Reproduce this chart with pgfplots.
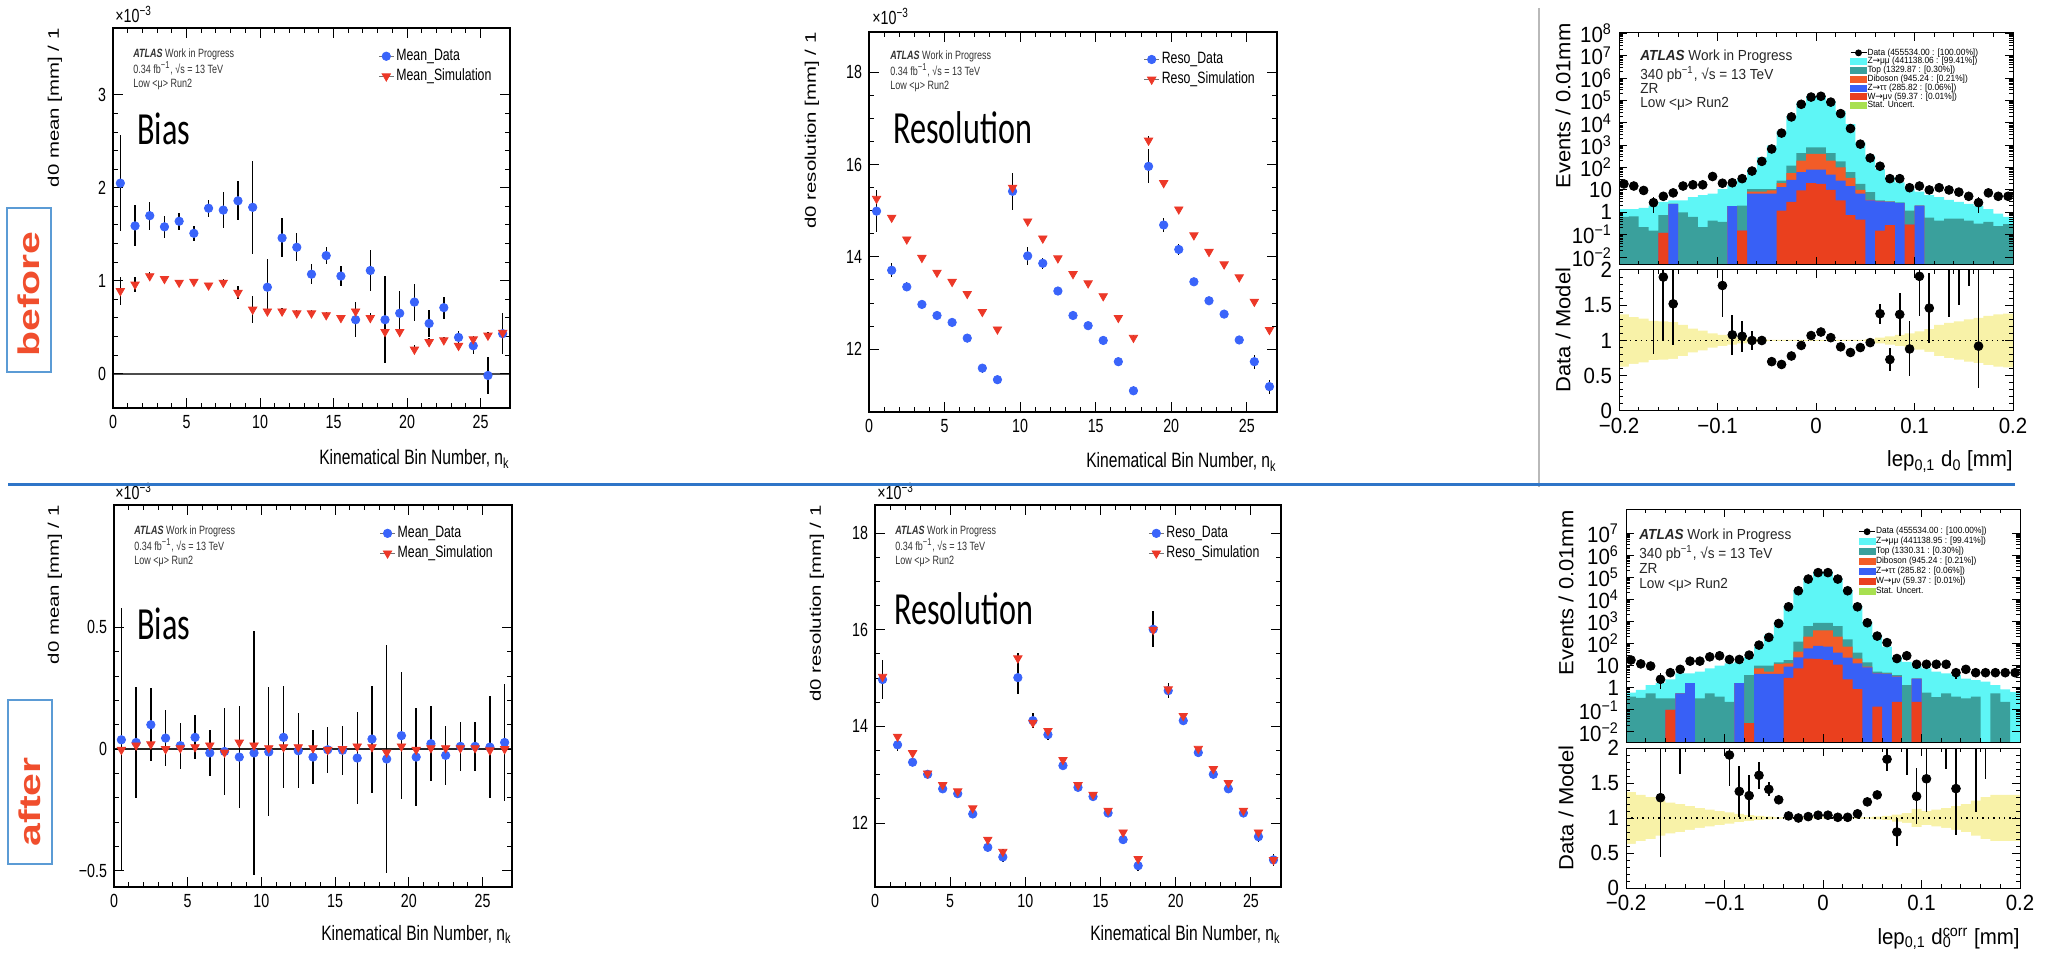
\documentclass[border=0pt]{standalone}
\usepackage{fontspec}
\usepackage{graphicx}
\usepackage{pgfplots}
\usepackage{pgfplotstable}
\pgfplotsset{compat=1.18}
\setmainfont{Liberation Sans}[FakeStretch=0.75]
\newfontfamily\histfont{Liberation Sans}[FakeStretch=0.93]
\newfontfamily\rotfont{Liberation Sans}
\newfontfamily\calfont{Carlito}[FakeStretch=0.70]
\newfontfamily\djv{DejaVu Sans}

\definecolor{mblue}{RGB}{58,100,250}
\definecolor{mred}{RGB}{236,56,40}
\definecolor{zmm}{RGB}{94,246,246}
\definecolor{ttop}{RGB}{58,160,156}
\definecolor{dib}{RGB}{242,92,40}
\definecolor{ztt}{RGB}{56,96,246}
\definecolor{wmn}{RGB}{234,64,30}
\definecolor{band}{RGB}{248,242,168}
\definecolor{statg}{RGB}{168,224,80}
\definecolor{slred}{RGB}{240,78,45}
\definecolor{slblue}{RGB}{46,117,200}
\definecolor{boxblue}{RGB}{91,155,213}

% ---------------- bias / resolution tables ----------------
\pgfplotstableread{
x d de s se
0.5 2.05 0.52 0.89 0.15
1.5 1.59 0.22 0.96 0.08
2.5 1.70 0.15 1.05 0.04
3.5 1.58 0.12 1.02 0.03
4.5 1.64 0.09 0.98 0.03
5.5 1.51 0.08 0.99 0.03
6.5 1.78 0.09 0.95 0.03
7.5 1.76 0.19 0.98 0.04
8.5 1.86 0.21 0.87 0.07
9.5 1.79 0.50 0.69 0.15
10.5 0.93 0.30 0.67 0.05
11.5 1.46 0.21 0.67 0.04
12.5 1.36 0.15 0.65 0.03
13.5 1.07 0.11 0.65 0.03
14.5 1.27 0.09 0.63 0.03
15.5 1.05 0.11 0.60 0.03
16.5 0.58 0.19 0.67 0.04
17.5 1.11 0.22 0.60 0.05
18.5 0.58 0.47 0.45 0.07
19.5 0.65 0.24 0.45 0.06
20.5 0.77 0.20 0.26 0.05
21.5 0.54 0.15 0.34 0.04
22.5 0.71 0.12 0.36 0.03
23.5 0.39 0.07 0.30 0.03
24.5 0.30 0.09 0.37 0.03
25.5 -0.02 0.20 0.41 0.04
26.5 0.43 0.22 0.44 0.05
}\biasb
\pgfplotstableread{
x d de s se
0.5 0.038 0.54 -0.003 0.02
1.5 0.027 0.23 0.015 0.02
2.5 0.10 0.15 0.02 0.02
3.5 0.045 0.115 0.0 0.01
4.5 0.014 0.095 0.004 0.01
5.5 0.048 0.09 0.008 0.01
6.5 -0.016 0.093 0.015 0.01
7.5 -0.01 0.18 -0.014 0.01
8.5 -0.033 0.21 0.027 0.01
9.5 -0.016 0.50 0.015 0.02
10.5 -0.012 0.265 0.004 0.01
11.5 0.048 0.21 0.008 0.01
12.5 -0.007 0.155 0.008 0.01
13.5 -0.033 0.11 0.004 0.01
14.5 -0.003 0.095 -0.003 0.01
15.5 -0.005 0.10 0.0 0.01
16.5 -0.037 0.19 0.011 0.01
17.5 0.041 0.22 0.008 0.01
18.5 -0.041 0.47 -0.014 0.02
19.5 0.055 0.26 0.011 0.01
20.5 -0.033 0.20 -0.003 0.01
21.5 0.022 0.155 0.004 0.01
22.5 -0.026 0.12 0.004 0.01
23.5 0.011 0.10 0.004 0.01
24.5 0.011 0.10 0.004 0.01
25.5 0.008 0.21 -0.005 0.01
26.5 0.027 0.24 0.0 0.01
}\biasa
\pgfplotstableread{
x d de s se
0.5 14.99 0.45 15.26 0.12
1.5 13.71 0.15 14.85 0.05
2.5 13.35 0.10 14.38 0.04
3.5 12.97 0.07 13.98 0.04
4.5 12.73 0.07 13.66 0.04
5.5 12.58 0.07 13.46 0.04
6.5 12.24 0.07 13.20 0.04
7.5 11.59 0.10 12.81 0.04
8.5 11.34 0.10 12.43 0.05
9.5 15.42 0.40 15.50 0.10
10.5 14.02 0.20 14.77 0.05
11.5 13.86 0.12 14.40 0.04
12.5 13.26 0.08 13.97 0.04
13.5 12.73 0.07 13.63 0.04
14.5 12.51 0.07 13.43 0.04
15.5 12.19 0.07 13.15 0.04
16.5 11.73 0.10 12.68 0.05
17.5 11.10 0.10 12.25 0.05
18.5 15.96 0.37 16.52 0.10
19.5 14.69 0.15 15.60 0.05
20.5 14.16 0.12 15.03 0.05
21.5 13.46 0.08 14.47 0.04
22.5 13.05 0.07 14.11 0.04
23.5 12.76 0.07 13.84 0.04
24.5 12.20 0.07 13.56 0.04
25.5 11.73 0.15 13.03 0.05
26.5 11.19 0.15 12.42 0.05
}\resb
\pgfplotstableread{
x d de s se
0.5 14.97 0.41 15.03 0.10
1.5 13.62 0.12 13.79 0.05
2.5 13.26 0.08 13.45 0.04
3.5 13.01 0.07 13.03 0.04
4.5 12.71 0.06 12.79 0.04
5.5 12.61 0.06 12.66 0.04
6.5 12.19 0.07 12.31 0.04
7.5 11.50 0.10 11.66 0.04
8.5 11.30 0.10 11.41 0.05
9.5 15.01 0.33 15.41 0.10
10.5 14.12 0.15 14.08 0.08
11.5 13.83 0.10 13.91 0.05
12.5 13.19 0.08 13.31 0.04
13.5 12.74 0.06 12.79 0.04
14.5 12.55 0.06 12.59 0.04
15.5 12.21 0.06 12.26 0.04
16.5 11.66 0.10 11.81 0.04
17.5 11.12 0.10 11.26 0.05
18.5 16.01 0.37 16.00 0.10
19.5 14.74 0.15 14.77 0.05
20.5 14.12 0.10 14.22 0.04
21.5 13.46 0.08 13.54 0.04
22.5 13.01 0.07 13.12 0.04
23.5 12.71 0.07 12.83 0.04
24.5 12.21 0.07 12.26 0.04
25.5 11.72 0.10 11.81 0.05
26.5 11.24 0.12 11.24 0.05
}\resa

% ---------------- histogram stacks (bin left edges) ----------------
\pgfplotstableread{
x w tt db top tot hu hl
-0.20 1e-5 1e-5 1e-5 0.62 1.4 1.37 0.63
-0.19 1e-5 1e-5 1e-5 0.66 1.4 1.33 0.67
-0.18 1e-5 1e-5 1e-5 0.22 1.6 1.31 0.69
-0.17 1e-5 1e-5 1e-5 0.15 2.0 1.28 0.72
-0.16 0.12 0.12 0.12 0.74 2.9 1.27 0.73
-0.15 1e-5 2.4 2.4 2.4 3.4 1.26 0.74
-0.14 1e-5 1e-5 1e-5 1.0 3.4 1.22 0.78
-0.13 1e-5 1e-5 1e-5 0.62 4.8 1.17 0.83
-0.12 1e-5 1e-5 1e-5 0.22 5.8 1.14 0.86
-0.11 1e-5 1e-5 1e-5 0.43 6.8 1.10 0.90
-0.10 1e-5 1e-5 1e-5 0.37 11 1.08 0.92
-0.09 1e-5 1.9 1.9 1.9 16 1.06 0.94
-0.08 0.15 0.15 0.15 2.0 32 1.04 0.96
-0.07 1e-5 6.8 8.5 11 87 1.03 0.97
-0.06 1e-5 6.8 8.5 11 290 1.02 0.98
-0.05 1e-5 6.8 9.5 11 950 1.01 0.99
-0.04 1.2 13.5 20 26 4400 1.01 0.99
-0.03 2.9 28 56 123 20000 1.01 0.99
-0.02 9.5 62 204 447 80000 1.01 0.99
-0.01 20 81 407 800 158000 1.01 0.99
0.00 18.6 81 407 800 158000 1.01 0.99
0.01 10 49 204 447 95000 1.01 0.99
0.02 3.4 26 102 190 34000 1.01 0.99
0.03 0.74 15 35 62 8700 1.01 0.99
0.04 0.47 6.8 10 18.6 1350 1.01 0.99
0.05 1e-5 3.4 3.6 8 340 1.02 0.98
0.06 0.15 3.1 3.2 3.4 87 1.04 0.96
0.07 0.27 2.9 3.0 3.1 37 1.06 0.94
0.08 1e-5 2.6 2.6 2.8 22 1.08 0.92
0.09 0.28 0.28 0.28 1.2 11 1.10 0.90
0.10 1e-5 2.0 2.0 2.0 8.5 1.13 0.87
0.11 1e-5 1e-5 1e-5 0.58 5.8 1.16 0.84
0.12 1e-5 1e-5 1e-5 0.43 4.8 1.22 0.78
0.13 1e-5 1e-5 1e-5 0.52 3.6 1.25 0.75
0.14 1e-5 1e-5 1e-5 0.52 2.9 1.27 0.73
0.15 1e-5 1e-5 1e-5 0.43 2.4 1.30 0.70
0.16 1e-5 1e-5 1e-5 0.31 1.9 1.32 0.68
0.17 1e-5 1e-5 1e-5 0.37 1.4 1.35 0.65
0.18 1e-5 1e-5 1e-5 0.24 0.87 1.37 0.63
0.19 1e-5 1e-5 1e-5 0.30 0.63 1.38 0.62
0.20 1e-5 1e-5 1e-5 0.30 0.63 1.38 0.62
}\stackb
\pgfplotstableread{
x w tt db top tot hu hl
-0.20 1e-5 1e-5 1e-5 0.40 0.6 1.37 0.63
-0.19 1e-5 1e-5 1e-5 0.35 0.8 1.33 0.67
-0.18 1e-5 1e-5 1e-5 0.56 1.3 1.30 0.70
-0.17 1e-5 1e-5 1e-5 0.33 1.6 1.25 0.75
-0.16 0.1 0.1 0.1 0.33 2.4 1.22 0.78
-0.15 1e-5 0.56 0.56 0.56 4.5 1.20 0.80
-0.14 1e-5 1.6 1.6 1.6 4.5 1.17 0.83
-0.13 1e-5 1e-5 1e-5 0.33 5.3 1.14 0.86
-0.12 1e-5 1e-5 1e-5 0.56 7.6 1.12 0.88
-0.11 1e-5 1e-5 1e-5 0.40 10 1.10 0.90
-0.10 1e-5 1e-5 1e-5 0.23 12.6 1.08 0.92
-0.09 1e-5 1.6 1.6 1.6 15 1.06 0.94
-0.08 0.025 0.025 0.025 3.7 25 1.04 0.96
-0.07 1e-5 4.2 7.6 10 72 1.03 0.97
-0.06 1e-5 4.2 5.4 10 240 1.02 0.98
-0.05 1e-5 4.2 12 14 970 1.01 0.99
-0.04 2.8 9 12.6 18 5000 1.01 0.99
-0.03 7.6 23.5 43 123 26000 1.01 0.99
-0.02 21 60 205 620 89000 1.01 0.99
-0.01 20 79 400 870 178000 1.01 0.99
0.00 18 72 400 870 178000 1.01 0.99
0.01 11 39 205 620 89000 1.01 0.99
0.02 2.4 23 72 155 26000 1.01 0.99
0.03 0.87 12.6 21 39 5000 1.01 0.99
0.04 1e-5 8.3 9 14 970 1.01 0.99
0.05 0.14 4.5 4.6 5.3 240 1.02 0.98
0.06 1e-5 4.2 4.3 4.8 72 1.03 0.97
0.07 0.23 3.2 3.3 3.7 25 1.05 0.95
0.08 1e-5 1e-5 1e-5 1.3 15 1.07 0.93
0.09 0.23 2.6 2.6 2.6 10 1.13 0.87
0.10 1e-5 1e-5 1e-5 0.6 7.6 1.10 0.90
0.11 1e-5 1e-5 1e-5 0.38 5.3 1.12 0.88
0.12 1e-5 1e-5 1e-5 0.56 4.5 1.14 0.86
0.13 1e-5 1e-5 1e-5 0.40 3.8 1.17 0.83
0.14 1e-5 1e-5 1e-5 0.33 2.6 1.20 0.80
0.15 1e-5 1e-5 1e-5 0.40 2.2 1.25 0.75
0.16 1e-5 1e-5 1e-5 1e-5 1.9 1.30 0.70
0.17 1e-5 1e-5 1e-5 0.56 1.3 1.33 0.67
0.18 1e-5 1e-5 1e-5 0.23 0.85 1.33 0.67
0.19 1e-5 1e-5 1e-5 1e-5 0.65 1.33 0.67
0.20 1e-5 1e-5 1e-5 1e-5 0.65 1.33 0.67
}\stacka

% ---------------- histogram data points (bin centres) ----------------
\pgfplotstableread{
x y ep em
-0.195 18.6 0 0
-0.185 15 0 0
-0.175 9.5 0 0
-0.165 2.7 2.1 1.8
-0.155 5.2 0 0
-0.145 7.4 0 0
-0.135 15 0 0
-0.125 17 0 0
-0.115 17 0 0
-0.105 40 0 0
-0.095 20 0 0
-0.085 21 0 0
-0.075 32 0 0
-0.065 70 0 0
-0.055 190 0 0
-0.045 680 0 0
-0.035 3500 0 0
-0.025 18500 0 0
-0.015 68000 0 0
-0.005 143000 0 0
0.005 155000 0 0
0.015 85000 0 0
0.025 26000 0 0
0.035 5600 0 0
0.045 1120 0 0
0.055 270 0 0
0.065 115 0 0
0.075 32 0 0
0.085 32 0 0
0.095 12.6 0 0
0.105 15 0 0
0.115 10 0 0
0.125 12.6 0 0
0.135 10 0 0
0.145 8 0 0
0.155 5.2 0 0
0.165 2.7 2.1 1.8
0.175 7.4 0 0
0.185 5.2 0 0
0.195 5.2 0 0
}\hdatb
\pgfplotstableread{
x y ep em
-0.195 18 0 0
-0.185 12 0 0
-0.175 9.6 0 0
-0.165 2.4 2.1 1.55
-0.155 4.8 0 0
-0.145 6.8 0 0
-0.135 16 0 0
-0.125 16 0 0
-0.115 25 0 0
-0.105 28 0 0
-0.095 19 0 0
-0.085 19 0 0
-0.075 30 0 0
-0.065 85 0 0
-0.055 190 0 0
-0.045 810 0 0
-0.035 4600 0 0
-0.025 24500 0 0
-0.015 83000 0 0
-0.005 162000 0 0
0.005 162000 0 0
0.015 83000 0 0
0.025 24500 0 0
0.035 4600 0 0
0.045 870 0 0
0.055 218 0 0
0.065 110 0 0
0.075 21 0 0
0.085 28 0 0
0.095 11.5 0 0
0.105 11.5 0 0
0.115 11.5 0 0
0.125 11.5 0 0
0.135 4.8 2.8 2.2
0.145 6.8 0 0
0.155 4.8 0 0
0.165 4.8 0 0
0.175 4.8 0 0
0.185 4.8 0 0
0.195 4.8 0 0
}\hdata

\pgfplotstableread{
x r ep em
-0.165 2.5 1.0 1.69
-0.155 1.90 0.9 0.9
-0.145 1.52 0.59 0.59
-0.095 1.78 0.45 0.45
-0.085 1.08 0.28 0.28
-0.075 1.06 0.22 0.22
-0.065 1.00 0.13 0.13
-0.055 1.00 0.07 0.07
-0.045 0.70 0.01 0.01
-0.035 0.66 0.01 0.01
-0.025 0.78 0 0
-0.015 0.93 0 0
-0.005 1.07 0 0
0.005 1.12 0 0
0.015 1.04 0 0
0.025 0.91 0 0
0.035 0.83 0 0
0.045 0.90 0 0
0.055 0.97 0 0
0.065 1.38 0.14 0.14
0.075 0.73 0.16 0.16
0.085 1.37 0.31 0.31
0.095 0.88 0.39 0.39
0.105 1.91 0.56 0.56
0.115 1.46 0.5 0.5
0.135 2.5 1.0 1.17
0.145 2.6 1.0 1.1
0.155 2.8 1.0 1.02
0.165 0.92 1.2 0.6
}\ratb
\pgfplotstableread{
x r ep em
-0.165 1.29 0.81 0.84
-0.145 2.6 1.0 0.97
-0.095 1.9 0.5 0.44
-0.085 1.38 0.36 0.36
-0.075 1.32 0.3 0.3
-0.065 1.61 0.19 0.19
-0.055 1.41 0.1 0.1
-0.045 1.26 0.03 0.03
-0.035 1.03 0 0
-0.025 1.00 0 0
-0.015 1.02 0 0
-0.005 1.04 0 0
0.005 1.04 0 0
0.015 1.01 0 0
0.025 1.01 0 0
0.035 1.06 0 0
0.045 1.23 0.02 0.02
0.055 1.33 0.04 0.04
0.065 1.84 0.17 0.17
0.075 0.80 0.2 0.2
0.085 2.5 1.0 0.89
0.095 1.31 0.4 0.4
0.105 1.56 0.48 0.48
0.125 2.6 1.0 0.9
0.135 1.42 0.66 0.66
0.155 2.7 1.0 1.62
0.165 2.7 1.0 1.14
}\rata

\pgfplotsset{
 kin/.style={scale only axis, anchor=north west, xmin=0, xmax=27, xtick={0,5,10,15,20,25},
   minor x tick num=4, tick align=inside, major tick length=5pt, minor tick length=2.5pt,
   every tick/.style={black, line width=0.5pt}, axis line style={black, line width=0.6pt},
   tick label style={font=\fontsize{9.5}{10}\selectfont},
   /pgf/number format/assume math mode=true, axis on top,
   legend style={draw=none, fill=none, anchor=north west, font=\fontsize{8.2}{9}\selectfont,
     row sep=0pt, inner sep=0pt, nodes={inner sep=1pt, text height=6pt, text depth=2pt}},
   legend cell align=left},
 dpt/.style={only marks, mark=*, mark size=2.1pt, color=mblue,
   error bars/y dir=both, error bars/y explicit, error bars/error mark=none,
   error bars/error bar style={black, line width=0.7pt}},
 spt/.style={only marks, mark=triangle*, mark size=2.4pt, mark options={rotate=180}, color=mred,
   error bars/y dir=both, error bars/y explicit, error bars/error mark=none,
   error bars/error bar style={black, line width=0.7pt}},
 hist/.style={scale only axis, anchor=north west, xmin=-0.2, xmax=0.2, tick align=inside, axis on top,
   every tick/.style={black, line width=0.5pt}, axis line style={black, line width=0.5pt},
   tick label style={font=\histfont\fontsize{11}{11}\selectfont},
   major tick length=4pt, minor tick length=2pt, xtick={-0.2,-0.1,0,0.1,0.2}, minor x tick num=4},
 hpt/.style={only marks, mark=*, mark size=2.2pt, black,
   error bars/y dir=both, error bars/y explicit, error bars/error mark=none,
   error bars/error bar style={black, line width=0.9pt}},
 hleg/.style={legend style={draw=none, fill=none, anchor=north west,
   font=\histfont\fontsize{4.5}{4.5}\selectfont, row sep=0pt, inner sep=0pt,
   nodes={inner sep=0.2pt, text height=3.1pt, text depth=0.9pt}}, legend cell align=left},
}
\newcommand{\dleg}{\addlegendimage{legend image code/.code={\draw[black!55, line width=0.6pt] (0pt,0pt) -- (7.5pt,0pt); \draw[mblue, mark=*, mark size=2.1pt] plot coordinates {(3.75pt,0pt)};}}}
\newcommand{\sleg}{\addlegendimage{legend image code/.code={\draw[black!55, line width=0.6pt] (0pt,0pt) -- (7.5pt,0pt); \draw[mred, fill=mred, mark=triangle*, mark size=2.4pt, mark options={rotate=180}] plot coordinates {(3.75pt,0pt)};}}}
\newcommand{\bleg}[1]{\addlegendimage{legend image code/.code={\fill[#1] (0pt,-1.5pt) rectangle (8pt,1.5pt);}}}
\newcommand{\hdleg}{\addlegendimage{legend image code/.code={\draw[black, line width=0.6pt] (0pt,0pt) -- (8pt,0pt); \draw[black, mark=*, mark size=1.5pt] plot coordinates {(4pt,0pt)};}}}
\newcommand{\ar}{{\djv →}}

\begin{document}
\begin{tikzpicture}
\useasboundingbox (0,0) rectangle (1023pt,480pt);

% ===================== P1 bias before =====================
\begin{axis}[kin, at={(56.5pt,466pt)}, width=198.5pt, height=190pt, ymin=-0.37, ymax=3.72,
  ytick={0,1,2,3}, minor y tick num=4, legend style={at={(0.667,0.953)}}]
\addplot[black!70, line width=1.1pt, forget plot] coordinates {(0,0) (27,0)};
\addplot[dpt, forget plot] table[x=x, y=d, y error=de] {\biasb};
\addplot[spt, forget plot] table[x=x, y=s, y error=se] {\biasb};
\dleg\addlegendentry{Mean\_Data}
\sleg\addlegendentry{Mean\_Simulation}
\end{axis}

% ===================== P2 resolution before =====================
\begin{axis}[kin, at={(434.5pt,464pt)}, width=204pt, height=190pt, ymin=10.64, ymax=18.87,
  ytick={12,14,16,18}, minor y tick num=3, legend style={at={(0.672,0.955)}}]
\addplot[dpt, forget plot] table[x=x, y=d, y error=de] {\resb};
\addplot[spt, forget plot] table[x=x, y=s, y error=se] {\resb};
\dleg\addlegendentry{Reso\_Data}
\sleg\addlegendentry{Reso\_Simulation}
\end{axis}

% ===================== P4 bias after =====================
\begin{axis}[kin, at={(57pt,227.5pt)}, width=199pt, height=191pt, ymin=-0.567, ymax=1.003,
  ytick={-0.5,0,0.5}, yticklabels={−0.5,0,0.5}, minor y tick num=4, legend style={at={(0.666,0.953)}}]
\addplot[black!85, line width=1.2pt, forget plot] coordinates {(0,0) (27,0)};
\addplot[dpt, forget plot] table[x=x, y=d, y error=de] {\biasa};
\addplot[spt, forget plot] table[x=x, y=s, y error=se] {\biasa};
\dleg\addlegendentry{Mean\_Data}
\sleg\addlegendentry{Mean\_Simulation}
\end{axis}

% ===================== P5 resolution after =====================
\begin{axis}[kin, at={(437.5pt,227.5pt)}, width=203pt, height=191pt, ymin=10.68, ymax=18.58,
  ytick={12,14,16,18}, minor y tick num=3, legend style={at={(0.672,0.953)}}]
\addplot[dpt, forget plot] table[x=x, y=d, y error=de] {\resa};
\addplot[spt, forget plot] table[x=x, y=s, y error=se] {\resa};
\dleg\addlegendentry{Reso\_Data}
\sleg\addlegendentry{Reso\_Simulation}
\end{axis}

% ===================== P3 hist before =====================
\begin{axis}[hist, hleg, at={(809.5pt,463.5pt)}, width=197pt, height=116pt,
  ymode=log, log origin=infty, ymin=0.0044, ymax=1.05e8, xticklabels={},
  ytickten={-2,...,8},
  yticklabels={10\textsuperscript{−2},10\textsuperscript{−1},1,10,10\textsuperscript{2},10\textsuperscript{3},10\textsuperscript{4},10\textsuperscript{5},10\textsuperscript{6},10\textsuperscript{7},10\textsuperscript{8}},
  legend style={at={(0.585,0.935)}}]
\addplot[ybar interval, fill=zmm, draw=none, forget plot] table[x=x,y=tot] {\stackb};
\addplot[ybar interval, fill=ttop, draw=none, forget plot] table[x=x,y=top] {\stackb};
\addplot[ybar interval, fill=dib, draw=none, forget plot] table[x=x,y=db] {\stackb};
\addplot[ybar interval, fill=ztt, draw=none, forget plot] table[x=x,y=tt] {\stackb};
\addplot[ybar interval, fill=wmn, draw=none, forget plot] table[x=x,y=w] {\stackb};
\addplot[hpt, forget plot] table[x=x,y=y,y error plus=ep,y error minus=em] {\hdatb};
\hdleg\addlegendentry{Data (455534.00 : [100.00\%])}
\bleg{zmm}\addlegendentry{Z\ar μμ (441138.06 : [99.41\%])}
\bleg{ttop}\addlegendentry{Top (1329.87 : [0.30\%])}
\bleg{dib}\addlegendentry{Diboson (945.24 : [0.21\%])}
\bleg{ztt}\addlegendentry{Z\ar ττ (285.82 : [0.06\%])}
\bleg{wmn}\addlegendentry{W\ar μν (59.37 : [0.01\%])}
\bleg{statg}\addlegendentry{Stat. Uncert.}
\end{axis}
\begin{axis}[hist, at={(809.5pt,345pt)}, width=197pt, height=70.5pt, ymin=0, ymax=2,
  ytick={0,0.5,1,1.5,2}, yticklabels={0,0.5,1,1.5,2}, minor y tick num=4,
  xticklabels={−0.2,−0.1,0,0.1,0.2}]
\addplot[ybar interval, fill=band, draw=none, forget plot] table[x=x,y=hu] {\stackb};
\addplot[ybar interval, fill=white, draw=none, forget plot] table[x=x,y=hl] {\stackb};
\addplot[black, dotted, line width=0.7pt, forget plot] coordinates {(-0.2,1) (0.2,1)};
\addplot[hpt, forget plot] table[x=x,y=r,y error plus=ep,y error minus=em] {\ratb};
\end{axis}

% ===================== P6 hist after =====================
\begin{axis}[hist, hleg, at={(813pt,225.5pt)}, width=197pt, height=116.5pt,
  ymode=log, log origin=infty, ymin=0.0035, ymax=1.23e8, xticklabels={},
  ytickten={-2,...,7},
  yticklabels={10\textsuperscript{−2},10\textsuperscript{−1},1,10,10\textsuperscript{2},10\textsuperscript{3},10\textsuperscript{4},10\textsuperscript{5},10\textsuperscript{6},10\textsuperscript{7}},
  legend style={at={(0.589,0.923)}, row sep=0.6pt}]
\addplot[ybar interval, fill=zmm, draw=none, forget plot] table[x=x,y=tot] {\stacka};
\addplot[ybar interval, fill=ttop, draw=none, forget plot] table[x=x,y=top] {\stacka};
\addplot[ybar interval, fill=dib, draw=none, forget plot] table[x=x,y=db] {\stacka};
\addplot[ybar interval, fill=ztt, draw=none, forget plot] table[x=x,y=tt] {\stacka};
\addplot[ybar interval, fill=wmn, draw=none, forget plot] table[x=x,y=w] {\stacka};
\addplot[hpt, forget plot] table[x=x,y=y,y error plus=ep,y error minus=em] {\hdata};
\hdleg\addlegendentry{Data (455534.00 : [100.00\%])}
\bleg{zmm}\addlegendentry{Z\ar μμ (441138.95 : [99.41\%])}
\bleg{ttop}\addlegendentry{Top (1330.31 : [0.30\%])}
\bleg{dib}\addlegendentry{Diboson (945.24 : [0.21\%])}
\bleg{ztt}\addlegendentry{Z\ar ττ (285.82 : [0.06\%])}
\bleg{wmn}\addlegendentry{W\ar μν (59.37 : [0.01\%])}
\bleg{statg}\addlegendentry{Stat. Uncert.}
\end{axis}
\begin{axis}[hist, at={(813pt,106pt)}, width=197pt, height=70pt, ymin=0, ymax=2,
  ytick={0,0.5,1,1.5,2}, yticklabels={0,0.5,1,1.5,2}, minor y tick num=4,
  xticklabels={−0.2,−0.1,0,0.1,0.2}]
\addplot[ybar interval, fill=band, draw=none, forget plot] table[x=x,y=hu] {\stacka};
\addplot[ybar interval, fill=white, draw=none, forget plot] table[x=x,y=hl] {\stacka};
\addplot[black, dotted, line width=0.7pt, forget plot] coordinates {(-0.2,1) (0.2,1)};
\addplot[hpt, forget plot] table[x=x,y=r,y error plus=ep,y error minus=em] {\rata};
\end{axis}

% ===================== texts =====================
\tikzset{ax/.style={font=\fontsize{9.5}{10}\selectfont, inner sep=0pt, anchor=base west}}
\node[ax] at (57.5pt,468.5pt) {×10\textsuperscript{−3}};
\node[ax] at (436pt,467.5pt) {×10\textsuperscript{−3}};
\node[ax] at (57.5pt,230pt) {×10\textsuperscript{−3}};
\node[ax] at (438.5pt,230pt) {×10\textsuperscript{−3}};

\tikzset{yl/.style={rotate=90, anchor=east, inner sep=0pt}}
\node[yl] at (27.5pt,466pt) {\scalebox{1}[0.75]{\rotfont\fontsize{10.2}{12}\selectfont d0 mean [mm] / 1}};
\node[yl] at (406pt,464pt) {\scalebox{1}[0.75]{\rotfont\fontsize{10.2}{12}\selectfont d0 resolution [mm] / 1}};
\node[yl] at (27.5pt,227.5pt) {\scalebox{1}[0.75]{\rotfont\fontsize{10.2}{12}\selectfont d0 mean [mm] / 1}};
\node[yl] at (408.5pt,227.5pt) {\scalebox{1}[0.75]{\rotfont\fontsize{10.2}{12}\selectfont d0 resolution [mm] / 1}};
\node[yl] at (781.5pt,468.5pt) {\scalebox{1}[0.93]{\rotfont\fontsize{11}{12}\selectfont Events / 0.01mm}};
\node[yl] at (783pt,225pt) {\scalebox{1}[0.93]{\rotfont\fontsize{11}{12}\selectfont Events / 0.01mm}};
\node[rotate=90, inner sep=0pt] at (781.5pt,315pt) {\scalebox{1}[0.93]{\rotfont\fontsize{11}{12}\selectfont Data / Model}};
\node[rotate=90, inner sep=0pt] at (783pt,76pt) {\scalebox{1}[0.93]{\rotfont\fontsize{11}{12}\selectfont Data / Model}};

\tikzset{xl/.style={anchor=base east, inner sep=0pt, font=\fontsize{10.4}{12}\selectfont}}
\node[xl] at (255pt,247.5pt) {Kinematical Bin Number, n\textsubscript{k}};
\node[xl] at (638.5pt,246pt) {Kinematical Bin Number, n\textsubscript{k}};
\node[xl] at (256pt,10pt) {Kinematical Bin Number, n\textsubscript{k}};
\node[xl] at (640.5pt,10pt) {Kinematical Bin Number, n\textsubscript{k}};
\node[anchor=base east, inner sep=0pt, font=\histfont\fontsize{11}{12}\selectfont] at (1006.5pt,246.5pt) {lep\textsubscript{0,1} d\textsubscript{0} [mm]};
\node[anchor=base east, inner sep=0pt, font=\histfont\fontsize{11}{12}\selectfont] at (1010pt,8pt) {lep\textsubscript{0,1} d\rlap{\textsubscript{0}}\textsuperscript{corr} [mm]};

\tikzset{atl/.style={anchor=north west, inner sep=0pt, align=left, text=black!80, font=\fontsize{6}{7.2}\selectfont}}
\node[atl] at (66.5pt,456pt) {\textbf{\textit{ATLAS}} Work in Progress\\0.34 fb\textsuperscript{−1}, √s = 13 TeV\\Low <μ> Run2};
\node[atl] at (445pt,455pt) {\textbf{\textit{ATLAS}} Work in Progress\\0.34 fb\textsuperscript{−1}, √s = 13 TeV\\Low <μ> Run2};
\node[atl] at (67pt,217.5pt) {\textbf{\textit{ATLAS}} Work in Progress\\0.34 fb\textsuperscript{−1}, √s = 13 TeV\\Low <μ> Run2};
\node[atl] at (447.5pt,217.5pt) {\textbf{\textit{ATLAS}} Work in Progress\\0.34 fb\textsuperscript{−1}, √s = 13 TeV\\Low <μ> Run2};
\node[atl, text=black!85, font=\histfont\fontsize{7.3}{7}\selectfont] at (820pt,455pt) {\textbf{\textit{ATLAS}} Work in Progress\\340 pb\textsuperscript{−1}, √s = 13 TeV\\ZR\\Low <μ> Run2};
\node[atl, text=black!85, font=\histfont\fontsize{7.3}{7.5}\selectfont] at (819.5pt,215.5pt) {\textbf{\textit{ATLAS}} Work in Progress\\340 pb\textsuperscript{−1}, √s = 13 TeV\\ZR\\Low <μ> Run2};

\tikzset{big/.style={anchor=base west, inner sep=0pt, font=\calfont\fontsize{23}{24}\selectfont}}
\node[big] at (68.5pt,407.5pt) {Bias};
\node[big] at (68.5pt,160.5pt) {Bias};
\node[big] at (446.5pt,408pt) {Resolution};
\node[big] at (447pt,168pt) {Resolution};

% before / after labels
\draw[boxblue, line width=0.8pt] (3.5pt,294pt) rectangle (25.5pt,376pt);
\draw[boxblue, line width=0.8pt] (4pt,48pt) rectangle (26pt,130pt);
\node[rotate=90, inner sep=0pt, text=slred] at (14.5pt,333pt) {\scalebox{1}[0.73]{\rotfont\bfseries\fontsize{20.5}{21}\selectfont before}};
\node[rotate=90, inner sep=0pt, text=slred] at (15pt,79pt) {\scalebox{1}[0.73]{\rotfont\bfseries\fontsize{20.5}{21}\selectfont after}};

% separators
\draw[gray!55, line width=0.8pt] (769.5pt,476pt) -- (769.5pt,236.5pt);
\draw[slblue, line width=1.5pt] (4pt,237.5pt) -- (1007.5pt,237.5pt);
\end{tikzpicture}
\end{document}
